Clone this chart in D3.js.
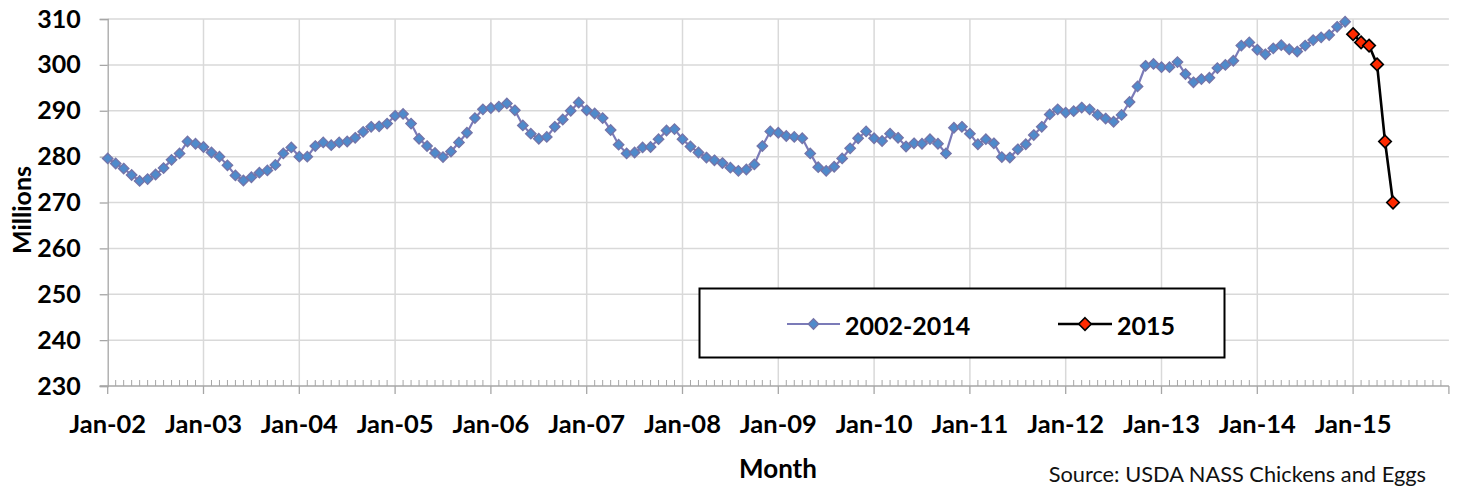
<!DOCTYPE html>
<html><head><meta charset="utf-8">
<script src="https://cdn.jsdelivr.net/npm/d3@7"></script>
<style>body{margin:0;background:#fff}svg{display:block}</style>
</head><body><svg id="c" width="1457" height="487"></svg>
<script>
// Monthly values, Jan-2002 .. Dec-2014 (millions)
const series2002_2014 = [
  279.6,278.5,277.4,276.0,274.7,275.1,276.1,277.5,279.3,280.7,283.3,282.8,
  282.1,280.9,280.0,278.1,275.9,274.8,275.5,276.5,277.0,278.2,280.7,282.0,
  280.0,280.0,282.3,283.1,282.5,283.1,283.3,284.1,285.4,286.5,286.6,287.2,
  288.9,289.3,287.2,283.9,282.3,280.8,279.9,281.1,283.1,285.2,288.4,290.3,
  290.6,290.9,291.6,290.1,286.8,285.0,283.9,284.3,286.5,288.1,290.0,291.8,
  290.1,289.4,288.4,285.8,282.6,280.7,280.9,282.0,282.1,283.8,285.7,286.0,
  283.8,282.2,280.9,279.8,279.2,278.6,277.6,276.9,277.2,278.3,282.3,285.5,
  285.2,284.5,284.3,284.0,280.7,277.7,276.9,277.8,279.6,281.8,284.0,285.5,
  284.0,283.4,285.0,284.1,282.2,282.9,282.8,283.8,282.8,280.7,286.3,286.5,
  285.0,282.7,283.8,282.9,279.9,279.8,281.6,282.7,284.7,286.5,289.2,290.3,
  289.6,289.9,290.7,290.3,289.1,288.3,287.6,289.1,291.9,295.3,299.8,300.2,
  299.5,299.5,300.6,298.0,296.2,296.9,297.2,299.3,300.0,300.9,304.2,304.9,
  303.3,302.3,303.6,304.3,303.4,302.9,304.2,305.4,306.0,306.5,308.3,309.4
];
// Jan-2015 .. Jun-2015
const series2015 = [306.7,304.9,304.2,300.1,283.3,270.0];
const xTickLabels = ["Jan-02","Jan-03","Jan-04","Jan-05","Jan-06","Jan-07","Jan-08","Jan-09","Jan-10","Jan-11","Jan-12","Jan-13","Jan-14","Jan-15"];
const yTicks = [230,240,250,260,270,280,290,300,310];
const legendLabels = ["2002-2014","2015"];

(function(){
const svg = d3.select("#c");
const pl = 107.7, pr = 1448.9, pt = 19, pb = 386;
const totalMonths = 168;
const x = d3.scaleLinear().domain([0, totalMonths]).range([pl, pr]);
const y = d3.scaleLinear().domain([230, 310]).range([pb, pt]);
const FONT = "Lato, 'Open Sans', sans-serif";

// horizontal gridlines
svg.append("g").selectAll("line").data(yTicks.filter(d=>d>230)).join("line")
  .attr("x1", pl).attr("x2", pr).attr("y1", d=>y(d)).attr("y2", d=>y(d))
  .attr("stroke", "#d9d9d9").attr("stroke-width", 1.5);
// vertical gridlines at each January
const majorIdx = xTickLabels.map((_, i) => i*12);
svg.append("g").selectAll("line").data(majorIdx.filter(d=>d>0)).join("line")
  .attr("x1", d=>x(d)).attr("x2", d=>x(d)).attr("y1", pt).attr("y2", pb)
  .attr("stroke", "#d9d9d9").attr("stroke-width", 1.5);

// y axis
const yAxis = d3.axisLeft(y).tickValues(yTicks).tickSize(8).tickPadding(19);
const gy = svg.append("g").attr("transform", `translate(${pl},0)`).call(yAxis);
gy.select(".domain").attr("stroke", "#a6a6a6").attr("stroke-width", 1.3);
gy.selectAll(".tick line").attr("stroke", "#a6a6a6").attr("stroke-width", 1.3);
gy.selectAll("text").attr("font-family", FONT).attr("font-weight", "bold")
  .attr("font-size", 25).attr("fill", "#000");

// x axis: minor ticks (monthly) inside, major ticks (Jan) outside
const gx = svg.append("g");
gx.append("line").attr("x1", pl - 8).attr("x2", pr).attr("y1", pb).attr("y2", pb)
  .attr("stroke", "#a6a6a6").attr("stroke-width", 1.3);
gx.selectAll("line.minor").data(d3.range(0, totalMonths + 1).filter(i => i % 12 !== 0)).join("line")
  .attr("class","minor").attr("x1", d=>x(d)).attr("x2", d=>x(d)).attr("y1", pb).attr("y2", pb - 6)
  .attr("stroke", "#a6a6a6").attr("stroke-width", 1);
gx.selectAll("line.major").data(d3.range(0, totalMonths + 1, 12)).join("line")
  .attr("class","major").attr("x1", d=>x(d)).attr("x2", d=>x(d)).attr("y1", pb).attr("y2", pb + 8)
  .attr("stroke", "#a6a6a6").attr("stroke-width", 1.3);
gx.selectAll("text").data(xTickLabels).join("text")
  .attr("x", (d,i)=>x(i*12)).attr("y", 433).attr("text-anchor","middle")
  .attr("font-family", FONT).attr("font-weight","bold").attr("font-size", 25.5).attr("fill","#000")
  .text(d=>d);

// series
const d1 = series2002_2014.map((v,i)=>({i, v}));
const d2 = series2015.map((v,i)=>({i: 156 + i, v}));
const line = d3.line().x(d=>x(d.i)).y(d=>y(d.v));
const diamond = (s) => d3.symbol().type(d3.symbolDiamond2).size(s);

svg.append("path").datum(d1).attr("d", line).attr("fill","none")
  .attr("stroke","#7b7bb8").attr("stroke-width", 2.2);
svg.append("g").selectAll("path").data(d1).join("path")
  .attr("transform", d=>`translate(${x(d.i)},${y(d.v)})`)
  .attr("d", diamond(70)).attr("fill","#4f8acb").attr("stroke","#7474a8").attr("stroke-width",1.3);

svg.append("path").datum(d2).attr("d", line).attr("fill","none")
  .attr("stroke","#000").attr("stroke-width", 2.6);
svg.append("g").selectAll("path").data(d2).join("path")
  .attr("transform", d=>`translate(${x(d.i)},${y(d.v)})`)
  .attr("d", diamond(100)).attr("fill","#ff2a00").attr("stroke","#000").attr("stroke-width",1.6);

// legend
const lg = svg.append("g");
lg.append("rect").attr("x", 699.5).attr("y", 288.5).attr("width", 525).attr("height", 69)
  .attr("fill","#fff").attr("stroke","#000").attr("stroke-width", 2);
const ly = 324;
lg.append("line").attr("x1", 787).attr("x2", 840).attr("y1", ly).attr("y2", ly)
  .attr("stroke","#7b7bb8").attr("stroke-width",2.2);
lg.append("path").attr("transform",`translate(813.5,${ly})`).attr("d", diamond(70))
  .attr("fill","#4f8acb").attr("stroke","#7474a8").attr("stroke-width",1.3);
lg.append("text").attr("x", 845).attr("y", ly + 11).text(legendLabels[0])
  .attr("font-family", FONT).attr("font-weight","bold").attr("font-size",25).attr("fill","#000");
lg.append("line").attr("x1", 1058).attr("x2", 1112).attr("y1", ly).attr("y2", ly)
  .attr("stroke","#000").attr("stroke-width",2.6);
lg.append("path").attr("transform",`translate(1085,${ly})`).attr("d", diamond(100))
  .attr("fill","#ff2a00").attr("stroke","#000").attr("stroke-width",1.6);
lg.append("text").attr("x", 1117).attr("y", ly + 11).text(legendLabels[1])
  .attr("font-family", FONT).attr("font-weight","bold").attr("font-size",25).attr("fill","#000");

// axis titles
svg.append("text").attr("transform","translate(31,210) rotate(-90)").attr("text-anchor","middle")
  .attr("font-family", FONT).attr("font-weight","bold").attr("font-size",25).attr("fill","#000").text("Millions");
svg.append("text").attr("x", 778).attr("y", 478).attr("text-anchor","middle")
  .attr("font-family", FONT).attr("font-weight","bold").attr("font-size",26).attr("fill","#000").text("Month");
svg.append("text").attr("x", 1426).attr("y", 482).attr("text-anchor","end")
  .attr("font-family", FONT).attr("font-size",21.8).attr("fill","#111").text("Source: USDA NASS Chickens and Eggs");
})();
</script></body></html>
